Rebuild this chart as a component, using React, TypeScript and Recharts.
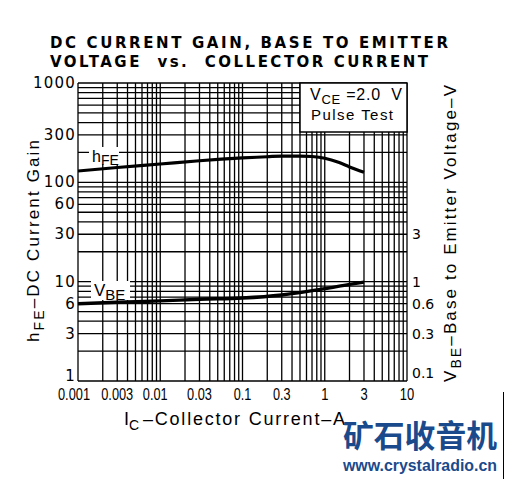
import { ComposedChart, Line, XAxis, YAxis, CartesianGrid } from 'recharts'

// hFE curve (left axis)
const hfeCurrent = [0.001, 0.003, 0.01, 0.03, 0.1, 0.2, 0.3, 0.5, 0.7, 1, 1.5, 2, 3]
const hfeGain = [130, 141, 153, 165, 176, 181, 184, 184, 182, 175, 158, 143, 126]

// VBE curve (right axis, volts)
const vbeCurrent = [0.001, 0.003, 0.01, 0.03, 0.1, 0.3, 1, 2, 3]
const vbeVolt = [0.6, 0.62, 0.64, 0.665, 0.685, 0.735, 0.85, 0.94, 0.99]

const xLabels = [0.001, 0.003, 0.01, 0.03, 0.1, 0.3, 1, 3, 10]
const leftLabels = [1, 3, 6, 10, 30, 60, 100, 300, 1000]
const rightLabels = [0.1, 0.3, 0.6, 1, 3]

// log paper lines: 1..9 in every decade
function logGrid(from: number, to: number) {
  const out: number[] = []
  for (let d = from; d < to * 0.999; d *= 10) {
    for (let m = 1; m < 10; m++) out.push(Number((m * d).toPrecision(3)))
  }
  out.push(to)
  return out
}

const gridX = logGrid(0.001, 10)
const gridY = logGrid(1, 1000)

const hfeData = hfeCurrent.map((ic, i) => ({ ic, hfe: hfeGain[i] }))
const vbeData = vbeCurrent.map((ic, i) => ({ ic, vbe: vbeVolt[i] }))

const has = (list: number[], v: number) => list.some(l => Math.abs(l - v) < v * 1e-6)

const font = "'Liberation Sans', Arial, sans-serif"

function XTick({ x, y, payload }: any) {
  if (!has(xLabels, payload.value)) return <g />
  const s = String(payload.value)
  const dots = s.split('.').length - 1
  const len = (s.length - dots) * 7.2 + dots * 3.2
  // the scanned labels sit a little left of the 0.001 and 0.01 lines
  const nudge = payload.value === 0.001 ? -4 : payload.value === 0.01 ? -5 : 0
  return (
    <text x={x + nudge - len / 2} y={y + 19} fontSize={16} fontFamily={font} fill="#000"
      textLength={len} lengthAdjust="spacingAndGlyphs">
      {s}
    </text>
  )
}

function LeftTick({ x, y, payload }: any) {
  if (!has(leftLabels, payload.value)) return <g />
  const dy = payload.value === 1 ? 0 : 5
  return (
    <text x={x + 1} y={y + dy} textAnchor="end" fontSize={15} letterSpacing={1.2}
      fontFamily="'DejaVu Sans', sans-serif" fill="#000">
      {String(payload.value)}
    </text>
  )
}

function RightTick({ x, y, payload }: any) {
  const dy = payload.value === 0.1 ? -3 : 5
  return (
    <text x={x} y={y + dy} textAnchor="start" fontSize={14}
      fontFamily="'DejaVu Sans', sans-serif" fill="#000">
      {String(payload.value)}
    </text>
  )
}

export default function App() {
  return (
    <div style={{ position: 'absolute', left: 0, top: 0, width: 507, height: 479, background: '#fff' }}>
      <ComposedChart width={507} height={479} margin={{ top: 83, right: 0, bottom: 0, left: 0 }}>
        <CartesianGrid yAxisId="left" stroke="#000" strokeWidth={1.3} strokeDasharray="" />
        <XAxis
          dataKey="ic"
          type="number"
          scale="log"
          domain={[0.001, 10]}
          ticks={gridX}
          interval={0}
          height={98}
          tickSize={0}
          tickMargin={0}
          axisLine={false}
          tickLine={false}
          tick={<XTick />}
          allowDataOverflow
        />
        <YAxis
          yAxisId="left"
          orientation="left"
          type="number"
          scale="log"
          domain={[1, 1000]}
          ticks={gridY}
          interval={0}
          width={78}
          tickSize={0}
          tickMargin={3}
          axisLine={false}
          tickLine={false}
          tick={<LeftTick />}
          allowDataOverflow
        />
        <YAxis
          yAxisId="right"
          orientation="right"
          type="number"
          scale="log"
          domain={[0.1, 100]}
          ticks={rightLabels}
          interval={0}
          width={100}
          tickSize={0}
          tickMargin={5}
          axisLine={false}
          tickLine={false}
          tick={<RightTick />}
          allowDataOverflow
        />
        <Line data={hfeData} dataKey="hfe" yAxisId="left" type="monotone" stroke="#000"
          strokeWidth={3.2} dot={false} isAnimationActive={false} />
        <Line data={vbeData} dataKey="vbe" yAxisId="right" type="monotone" stroke="#000"
          strokeWidth={3.4} dot={false} isAnimationActive={false} />
      </ComposedChart>

      <svg width={507} height={479} style={{ position: 'absolute', left: 0, top: 0, pointerEvents: 'none' }}>
        {/* title */}
        <text x={50} y={48} textLength={398} lengthAdjust="spacing" fontSize={15} fontWeight="bold"
          fontFamily="'DejaVu Sans', sans-serif" fill="#000">DC CURRENT GAIN, BASE TO EMITTER</text>
        <text x={50} y={67} textLength={378} lengthAdjust="spacing" fontSize={15} fontWeight="bold"
          fontFamily="'DejaVu Sans', sans-serif" fill="#000" style={{ whiteSpace: 'pre' }}>
          {'VOLTAGE  vs.  COLLECTOR CURRENT'}
        </text>

        {/* condition box */}
        <rect x={300} y={83} width={107} height={49} fill="#fff" stroke="#000" strokeWidth={1.5} />
        <text x={310} y={100} fontSize={16} fontFamily={font} fill="#000" textLength={92}
          lengthAdjust="spacing" style={{ whiteSpace: 'pre' }}>
          V<tspan fontSize={13} dy={4}>CE</tspan><tspan dy={-4}>{' =2.0  V'}</tspan>
        </text>
        <text x={311} y={120} fontSize={15} fontFamily={font} fill="#000" textLength={82}
          lengthAdjust="spacing">Pulse Test</text>

        {/* curve labels */}
        <rect x={89} y={147} width={30} height={17} fill="#fff" />
        <text x={92} y={162} fontSize={16} fontFamily={font} fill="#000">
          h<tspan fontSize={14} dy={3}>FE</tspan>
        </text>
        <rect x={91} y={281} width={39} height={19} fill="#fff" />
        <text x={94} y={296} fontSize={17} fontFamily={font} fill="#000">
          V<tspan fontSize={15} dy={4}>BE</tspan>
        </text>

        {/* left title */}
        <g transform="translate(39, 342) rotate(-90)">
          <text x={0} y={0} fontSize={17} fontFamily={font} fill="#000" textLength={202} lengthAdjust="spacing">
            h<tspan fontSize={14} dy={5}>FE</tspan><tspan dy={-5}>{'\u2013DC Current Gain'}</tspan>
          </text>
        </g>

        {/* right title */}
        <g transform="translate(456, 382) rotate(-90)">
          <text x={0} y={0} fontSize={17} fontFamily={font} fill="#000" textLength={297} lengthAdjust="spacing">
            V<tspan fontSize={14} dy={5}>BE</tspan><tspan dy={-5}>{'\u2013Base to Emitter Voltage\u2013V'}</tspan>
          </text>
        </g>

        {/* x title */}
        <text x={124} y={425} fontSize={18} fontFamily={font} fill="#000">
          I<tspan fontSize={14} dy={5}>C</tspan>
        </text>
        <text x={143} y={425} fontSize={18} fontFamily={font} fill="#000" textLength={202}
          lengthAdjust="spacing">{'\u2013Collector Current\u2013A'}</text>

        {/* watermark */}
        <text x={343} y={447} fontSize={31} fontWeight="bold" fill="#1b4a8c" textLength={154}
          lengthAdjust="spacingAndGlyphs" fontFamily="'Noto Sans CJK SC', sans-serif">矿石收音机</text>
        <text x={343} y={471} fontSize={16} fontWeight="bold" fill="#1b4a8c" textLength={154}
          lengthAdjust="spacingAndGlyphs" fontFamily={font}>www.crystalradio.cn</text>
        <line x1={503.5} y1={392} x2={503.5} y2={479} stroke="#000" strokeWidth={1} />
      </svg>
    </div>
  )
}
